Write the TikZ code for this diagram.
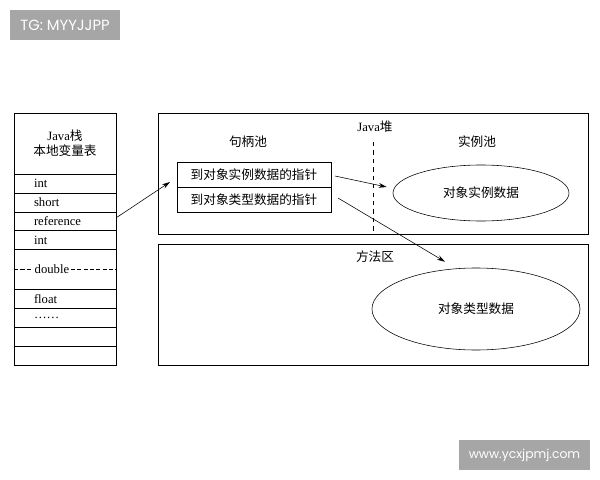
\documentclass[tikz,border=0pt]{standalone}
\usepackage{fontspec}
\setmainfont{Liberation Serif}
\newfontfamily\cjk{Noto Sans CJK SC}
\newfontfamily\wmfont{Poppins}
\usetikzlibrary{arrows.meta, shapes.geometric, positioning, calc}
\definecolor{wmgray}{HTML}{A6A6A6}

\begin{document}
\begin{tikzpicture}[x=0.025cm,y=-0.025cm,font=\fontsize{9}{10.7}\selectfont,
	>={Stealth[length=2mm,width=1.2mm]},
	row/.style={draw,outer sep=0pt,inner ysep=0pt,inner xsep=0.5cm,text width=1.55cm,align=left,minimum height=0.472cm},
	cell/.style={draw,outer sep=0pt,inner sep=0pt,minimum width=3.85cm,minimum height=0.625cm},
	blob/.style={draw,ellipse,inner sep=0pt},
	wm/.style={fill=wmgray,text=white,inner sep=0pt,minimum height=0.75cm}]
	\useasboundingbox (0,0) rectangle (600,480);

	% watermarks
	\node[wm,minimum width=2.75cm,font=\wmfont\fontsize{10.5}{12}\selectfont] (tg) at (65,25) {TG: MYYJJPP};
	\node[wm,minimum width=3.275cm,font=\wmfont\fontsize{8.8}{10}\selectfont] (www) at (524.5,455) {www.ycxjpmj.com};

	% Java stack
	\node[draw,outer sep=0pt,inner sep=0pt,anchor=north west,minimum width=2.55cm,minimum height=1.525cm,align=center] (s0) at (14,113) {Java{\cjk 栈}\\{\cjk 本地变量表}};
	\node[row,below=0pt of s0] (s1) {int};
	\node[row,below=0pt of s1] (s2) {short};
	\node[row,below=0pt of s2] (s3) {reference};
	\node[row,below=0pt of s3] (s4) {int};
	\node[row,below=0pt of s4,minimum height=1cm] (s5) {};
	\node[row,below=0pt of s5] (s6) {float};
	\node[row,below=0pt of s6] (s7) {\dots\dots};
	\node[row,below=0pt of s7] (s8) {};
	\node[row,below=0pt of s8] (s9) {};
	\draw[dash pattern=on 3pt off 1.5pt] (s5.west) -- (s5.east);
	\node[fill=white,inner sep=1pt,anchor=west] (dbl) at ([xshift=0.475cm]s5.west) {double};

	% Java heap
	\draw (158,113) rectangle (588,234);
	\node (heap) at (375,127) {Java{\cjk 堆}};
	\node (hpool) at (248,142) {\cjk 句柄池};
	\node (ipool) at (477,142) {\cjk 实例池};
	\draw[dashed] (373,142) -- (373,234);
	\node[cell] (h1) at (254,174.5) {\cjk 到对象实例数据的指针};
	\node[cell,below=0pt of h1] (h2) {\cjk 到对象类型数据的指针};
	\node[blob,minimum width=4.4cm,minimum height=1.4cm] (e1) at (481,193) {\cjk 对象实例数据};

	% method area
	\draw (158,244) rectangle (588,365);
	\node (marea) at (375,257) {\cjk 方法区};
	\node[blob,minimum width=5.2cm,minimum height=2.05cm] (e2) at (476,309) {\cjk 对象类型数据};

	\draw[->] ($(s3.east)+(1,-4)$) -- ($(h1.south west)+(-7,-5)$);
	\draw[->] ($(h1.east)+(4,1.5)$) -- ($(e1.west)+(-6,-6)$);
	\draw[->] ($(h2.east)+(7,-1.5)$) -- ($(e2.north)+(-31,-6)$);
\end{tikzpicture}
\end{document}
